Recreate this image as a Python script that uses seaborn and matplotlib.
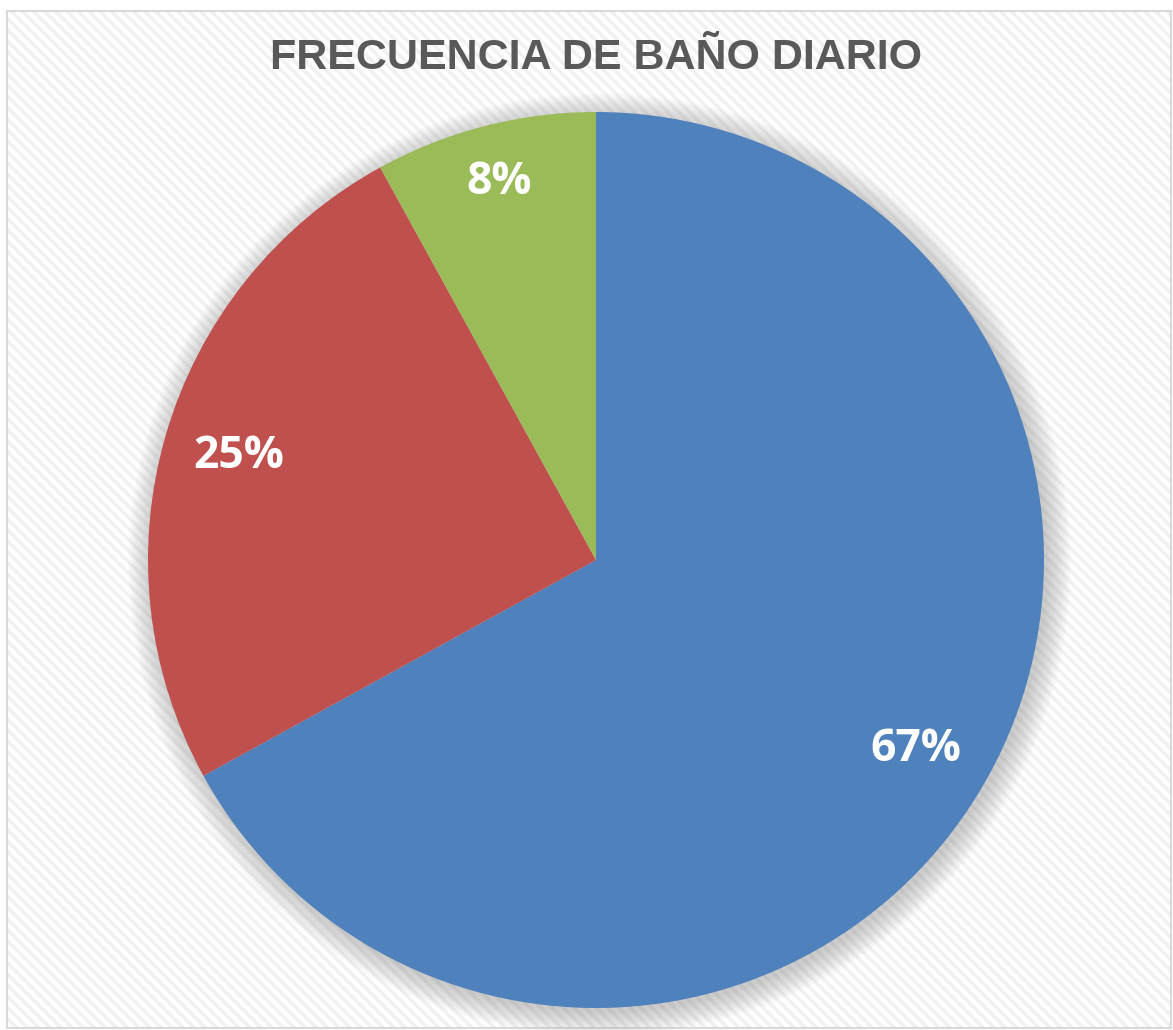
import matplotlib
matplotlib.use("Agg")
import matplotlib.pyplot as plt
from matplotlib.patches import Rectangle, Circle
import seaborn as sns

categories = ["Una vez", "Dos veces", "Ninguna"]
values = [67, 25, 8]
colors = ["#4F81BD", "#C0504D", "#9BBB59"]
title = "FRECUENCIA DE BAÑO DIARIO"

sns.set_theme(style="white")
plt.rcParams["font.family"] = ["Liberation Sans", "DejaVu Sans"]
plt.rcParams["hatch.linewidth"] = 2.5

W, H = 1173, 1030
fig = plt.figure(figsize=(W / 100, H / 100), dpi=100, facecolor="white")

# background panel with diagonal stripes
rect = ((7 / W, 1 - 1028 / H), (1171 - 7) / W, (1028 - 11) / H)
bg = Rectangle(*rect, transform=fig.transFigure, facecolor="white",
               edgecolor="#f1f1f1", linewidth=0, hatch="\\\\\\", zorder=-2)
border = Rectangle(*rect, transform=fig.transFigure, facecolor="none",
                   edgecolor="#d9d9d9", linewidth=1.5, zorder=-1)
fig.patches.append(bg)
fig.patches.append(border)

cx, cy, r = 596, 560, 448
ax = fig.add_axes([(cx - r) / W, (H - cy - r) / H, 2 * r / W, 2 * r / H])
ax.set_facecolor("none")
ax.set_zorder(1)

# soft shadow
for i in range(14):
    ax.add_patch(Circle((0.008, -0.010), 1 + 0.004 * i, facecolor="#7f7f7f",
                        alpha=0.03, edgecolor="none", zorder=0, clip_on=False))

wedges, texts, autotexts = ax.pie(
    values, colors=sns.color_palette(colors), startangle=90, counterclock=False,
    radius=1, autopct="%1.0f%%", pctdistance=0.83,
    wedgeprops=dict(edgecolor="none", linewidth=0),
    textprops=dict(color="white", fontsize=32, fontweight="bold",
                   family=["Open Sans", "DejaVu Sans"]),
)
for w in wedges:
    w.set_zorder(2)
for t in autotexts:
    t.set_zorder(3)
# push small-slice label slightly outward
x, y = autotexts[2].get_position()
autotexts[2].set_position((x * 0.87 / 0.83, y * 0.87 / 0.83))

ax.set_xlim(-1, 1)
ax.set_ylim(-1, 1)
ax.set_aspect("equal")
ax.axis("off")

fig.text(596 / W, 1 - 58 / H, title, ha="center", va="center", fontsize=31,
         fontweight="bold", color="#595959", zorder=2)

fig.savefig("out.png", dpi=100, facecolor="white")
